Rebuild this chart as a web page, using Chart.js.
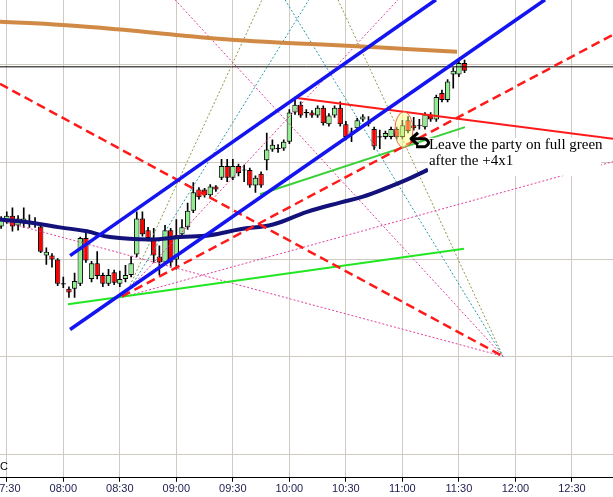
<!DOCTYPE html>
<html>
<head>
<meta charset="utf-8">
<script src="https://cdn.jsdelivr.net/npm/chart.js@4.4.1/dist/chart.umd.min.js"></script>
<style>
  html, body { margin: 0; padding: 0; background: #fff; }
  #wrap { width: 613px; height: 497px; position: relative; }
</style>
</head>
<body>
<div id="wrap"><canvas id="chart"></canvas></div>
<script>
// 3 minute bars
const candleTimes = [
  "07:27","07:30","07:33","07:36","07:39","07:42","07:45","07:48","07:51","07:54",
  "07:57","08:00","08:03","08:06","08:09","08:12","08:15","08:18","08:21","08:24",
  "08:27","08:30","08:33","08:36","08:39","08:42","08:45","08:48","08:51","08:54",
  "08:57","09:00","09:03","09:06","09:09","09:12","09:15","09:18","09:21","09:24",
  "09:27","09:30","09:33","09:36","09:39","09:42","09:45","09:48","09:51","09:54",
  "09:57","10:00","10:03","10:06","10:09","10:12","10:15","10:18","10:21","10:24",
  "10:27","10:30","10:33","10:36","10:39","10:42","10:45","10:48","10:51","10:54",
  "10:57","11:00","11:03","11:06","11:09","11:12","11:15","11:18","11:21","11:24",
  "11:27","11:30","11:33"
];
const opens = [
  1393.4,1393.9,1394.5,1393.5,1393.8,1393.8,1393.7,1393.4,1390.4,1390.4,
  1390.0,1387.5,1387.0,1387.0,1387.5,1392.2,1388.0,1389.6,1388.4,1387.5,
  1388.7,1387.5,1388.0,1388.4,1390.5,1394.2,1393.0,1392.2,1390.3,1389.7,
  1393.0,1390.0,1392.6,1393.3,1395.0,1397.2,1397.2,1396.6,1397.5,1398.4,
  1399.6,1398.4,1399.6,1399.2,1399.2,1397.6,1398.8,1400.2,1401.3,1401.4,
  1401.4,1402.1,1405.1,1405.9,1405.1,1405.1,1404.8,1405.6,1403.9,1404.8,
  1405.6,1403.9,1403.1,1403.5,1404.4,1404.0,1403.4,1402.6,1402.6,1402.6,
  1403.4,1402.6,1404.3,1403.8,1403.8,1403.6,1404.9,1404.4,1407.1,1406.4,
  1409.0,1409.0,1410.2
];
const highs = [
  1394.4,1394.9,1395.3,1394.5,1395.3,1394.6,1394.3,1393.5,1391.2,1390.6,
  1390.1,1388.2,1387.2,1388.6,1392.3,1392.7,1389.8,1390.8,1388.6,1389.0,
  1388.9,1388.8,1389.4,1390.3,1394.9,1394.9,1393.3,1393.2,1391.4,1393.5,
  1393.2,1394.1,1394.1,1395.8,1397.9,1397.4,1397.3,1397.7,1397.6,1400.3,
  1400.3,1400.3,1399.8,1399.7,1399.4,1398.6,1399.0,1403.0,1402.3,1401.8,
  1402.3,1405.4,1406.7,1406.2,1405.4,1405.3,1405.8,1405.8,1405.0,1405.8,
  1406.2,1404.2,1403.5,1404.5,1404.9,1404.7,1403.6,1403.3,1403.2,1403.6,
  1403.6,1404.3,1404.7,1404.6,1404.4,1405.1,1405.1,1406.9,1407.4,1408.5,
  1409.7,1410.5,1410.5
];
const lows = [
  1393.2,1393.7,1392.9,1393.0,1393.3,1393.3,1393.3,1390.7,1389.5,1389.2,
  1387.3,1387.1,1386.1,1386.1,1387.3,1389.7,1387.7,1388.0,1387.2,1387.3,
  1387.4,1387.2,1387.7,1388.2,1390.3,1392.4,1391.9,1389.7,1388.4,1389.5,
  1389.2,1389.0,1392.3,1393.1,1394.8,1396.2,1396.4,1396.4,1397.0,1398.2,
  1398.0,1398.2,1398.6,1398.0,1397.4,1396.9,1397.4,1399.2,1401.1,1401.0,
  1401.2,1401.9,1404.9,1404.6,1404.6,1404.6,1404.6,1403.8,1403.7,1404.6,
  1403.7,1402.3,1402.1,1403.2,1404.2,1403.7,1401.3,1401.4,1402.4,1402.4,
  1402.4,1402.4,1403.0,1403.3,1403.4,1403.4,1404.2,1404.2,1406.2,1406.2,
  1407.6,1408.8,1409.2
];
const closes = [
  1394.1,1394.5,1393.4,1394.2,1394.2,1393.8,1393.7,1390.8,1390.8,1390.0,
  1387.5,1387.5,1386.6,1387.8,1392.2,1389.9,1389.6,1388.3,1387.5,1388.4,
  1387.6,1388.0,1388.4,1389.6,1394.2,1392.6,1392.2,1390.4,1389.7,1393.0,
  1389.7,1392.5,1393.3,1395.0,1396.9,1396.4,1396.6,1397.5,1397.2,1399.6,
  1398.4,1399.6,1398.9,1399.2,1397.6,1398.4,1397.6,1401.3,1401.8,1401.4,
  1402.1,1405.1,1405.9,1404.8,1405.1,1404.8,1405.6,1404.0,1404.8,1405.6,
  1403.9,1402.6,1403.1,1404.3,1404.7,1404.0,1401.6,1402.6,1403.0,1403.4,
  1402.6,1403.8,1403.2,1403.5,1403.8,1404.9,1404.4,1406.7,1406.4,1408.3,
  1409.4,1410.2,1409.4
];

// moving averages [minutes, price]
const slowAverage = [
  [446.4,1414.44],[479.6,1414.10],[508.5,1413.66],[539.8,1413.08],[571.1,1412.56],
  [601.9,1412.23],[633.2,1411.95],[664.0,1411.61],[689.0,1411.36]
];
const fastAverage = [
  [446.4,1394.1],[462.3,1393.8],[478.2,1393.3],[492.6,1392.9],[504.8,1392.3],
  [526.0,1392.05],[541.9,1392.3],[557.9,1392.5],[573.8,1393.1],[591.3,1393.6],
  [609.4,1394.9],[626.9,1395.85],[639.1,1396.46],[653.4,1397.49],[662.4,1398.2],
  [673.6,1399.23]
];

// drawn trend lines [minutes, price]
const channelUpper = [[483.6,1390.4],[677.8,1416.7]];
const channelLower = [[483.6,1382.8],[735.7,1416.7]];
const resistance = [[604.0,1406.6],[771.8,1402.4]];
const dashFromHigh = [[446.4,1408.05],[713.4,1380.05]];
const dashFromLow = [[511.2,1386.2],[771.8,1413.1]];
const greenLow = [[482.5,1385.4],[692.7,1391.1]];
const greenMid = [[584.4,1396.7],[693.2,1403.6]];
const fanPinkSteep = [[511.2,1386.2],[657.7,1416.7]];
const fanPinkFlat = [[511.2,1386.1],[771.8,1400.05]];
const fanOlive = [[512.7,1386.2],[585.5,1416.7]];
const fanTeal = [[512.7,1386.2],[610.4,1416.7]];
const apexPinkLeft = [[446.4,1394.0],[713.4,1380.05]];
const apexPinkTop = [[539.3,1416.7],[713.4,1380.05]];
const apexTeal = [[597.7,1416.7],[713.4,1380.05]];
const apexOlive = [[625.8,1416.7],[713.4,1380.05]];
const lastPrice = 1409.8;

const tickLabels = ["07:30","08:00","08:30","09:00","09:30","10:00","10:30","11:00","11:30","12:00","12:30"];
const gridPrices = [1370, 1380, 1390, 1400, 1410];

const xMin = 446.4, xMax = 771.8;
const yMax = 1416.67, yMin = 1367.56;

const toMin = (s) => { const [h, m] = s.split(":").map(Number); return h * 60 + m; };
const fmt = (v) => String(Math.floor(v / 60)).padStart(2, "0") + ":" + String(Math.round(v % 60)).padStart(2, "0");

const isDoji = (i) => Math.abs(opens[i] - closes[i]) < 0.05;

const bodies = candleTimes.map((t, i) => ({
  x: toMin(t),
  y: isDoji(i) ? [closes[i] - 0.06, closes[i] + 0.06] : [opens[i], closes[i]]
}));
const bodyColors = candleTimes.map((t, i) =>
  isDoji(i) ? "#000" : (closes[i] > opens[i] ? "#90ee90" : "#ff0000"));
const wicks = candleTimes.map((t, i) => ({ x: toMin(t), y: [lows[i], highs[i]] }));

const line = (pts, color, width, dash, smooth) => ({
  type: "line",
  data: pts.map(([x, y]) => ({ x, y })),
  borderColor: color,
  borderWidth: width,
  borderDash: dash || [],
  pointRadius: 0,
  fill: false,
  tension: smooth ? 0.4 : 0,
  order: 0
});

const comment = {
  t: 674.1, p: 1401.8,
  lines: ["Leave the party on full green", "after the +4x1"],
  box: [673.6, 1402.5, 765.4, 1398.6]
};
const circled = { t: 660.8, p: 1403.33 };
const arrowTip = { t: 664.6, p: 1402.41 };

const notes = {
  id: "notes",
  afterDatasetsDraw(chart) {
    const { ctx, scales: { x, y }, chartArea } = chart;
    ctx.save();
    // white background under the comment
    const [b0, b1, b2, b3] = comment.box;
    const bx = x.getPixelForValue(b0), by = y.getPixelForValue(b1);
    ctx.fillStyle = "#fff";
    ctx.fillRect(bx, by, x.getPixelForValue(b2) - bx, y.getPixelForValue(b3) - by);

    // circled bar
    ctx.beginPath();
    ctx.ellipse(x.getPixelForValue(circled.t), y.getPixelForValue(circled.p), 9, 18, 0, 0, Math.PI * 2);
    ctx.fillStyle = "rgba(255,255,120,0.45)";
    ctx.fill();
    ctx.strokeStyle = "#e06a5a";
    ctx.lineWidth = 1;
    ctx.stroke();

    // arrow
    const ax = x.getPixelForValue(arrowTip.t), ay = y.getPixelForValue(arrowTip.p);
    ctx.strokeStyle = "#000";
    ctx.lineWidth = 3;
    ctx.lineJoin = "round";
    ctx.beginPath();
    ctx.moveTo(ax + 7, ay - 6);
    ctx.lineTo(ax, ay);
    ctx.lineTo(ax + 7, ay + 6);
    ctx.moveTo(ax, ay);
    ctx.lineTo(ax + 14, ay);
    ctx.quadraticCurveTo(ax + 21, ay + 4, ax + 14, ay + 8);
    ctx.lineTo(ax + 5, ay + 8);
    ctx.stroke();

    // comment text
    ctx.fillStyle = "#000";
    ctx.font = "15px 'Liberation Serif'";
    ctx.textBaseline = "middle";
    const tx = x.getPixelForValue(comment.t), ty = y.getPixelForValue(comment.p);
    comment.lines.forEach((s, i) => ctx.fillText(s, tx, ty + i * 16));

    // cut off axis caption
    ctx.font = "11px 'Liberation Sans'";
    ctx.fillText("C", chartArea.left, chartArea.bottom - 11);
    ctx.restore();
  }
};

new Chart(document.getElementById("chart"), {
  type: "bar",
  data: {
    datasets: [
      line(channelUpper, "#1414f0", 3.5),
      line(channelLower, "#1414f0", 3.5),
      line(resistance, "#ff1a1a", 2),
      line(dashFromHigh, "#ff1a1a", 2.5, [9, 5]),
      line(dashFromLow, "#ff1a1a", 2.5, [9, 5]),
      line(greenLow, "#22e622", 2),
      line(greenMid, "#3ad03a", 2),
      line(fastAverage, "#12127a", 4, null, true),
      line(slowAverage, "#d08a45", 4, null, true),
      line(fanPinkSteep, "#e0409c", 1, [2, 2]),
      line(fanPinkFlat, "#e0409c", 1, [2, 2]),
      line(fanOlive, "#8c9a48", 1, [2, 2]),
      line(fanTeal, "#2a9aa8", 1, [2, 2]),
      line(apexPinkLeft, "#e0409c", 1, [2, 2]),
      line(apexPinkTop, "#e0409c", 1, [2, 2]),
      line(apexTeal, "#2a9aa8", 1, [2, 2]),
      line(apexOlive, "#8c9a48", 1, [2, 2]),
      line([[xMin, lastPrice], [xMax, lastPrice]], "#000", 1),
      {
        type: "bar",
        data: bodies,
        backgroundColor: bodyColors,
        borderColor: "#000",
        borderWidth: 1,
        borderSkipped: false,
        grouped: false,
        categoryPercentage: 1,
        barPercentage: 0.95,
        order: 1
      },
      {
        type: "bar",
        data: wicks,
        backgroundColor: "#000",
        barThickness: 1,
        maxBarThickness: 1,
        grouped: false,
        order: 2
      }
    ]
  },
  options: {
    responsive: true,
    maintainAspectRatio: false,
    animation: false,
    layout: { padding: 0 },
    plugins: { legend: { display: false }, tooltip: { enabled: false } },
    scales: {
      x: {
        type: "linear",
        min: xMin,
        max: xMax,
        offset: false,
        afterBuildTicks: (s) => { s.ticks = tickLabels.map((l) => ({ value: toMin(l) })); },
        afterFit: (s) => { s.paddingLeft = 0; s.paddingRight = 0; },
        grid: { color: "#cfcbc3", tickLength: 4, tickColor: "#000", offset: false },
        border: { color: "#000", width: 1 },
        ticks: {
          autoSkip: false,
          maxRotation: 0,
          padding: 1,
          color: "#1c1c50",
          font: { family: "'Liberation Sans'", size: 11 },
          callback: (v) => fmt(v)
        }
      },
      y: {
        type: "linear",
        min: yMin,
        max: yMax,
        afterBuildTicks: (s) => { s.ticks = gridPrices.map((v) => ({ value: v })); },
        afterFit: (s) => { s.width = 0; },
        grid: { color: "#cfcbc3", drawTicks: false },
        border: { display: false },
        ticks: { display: false }
      }
    }
  },
  plugins: [notes]
});
</script>
</body>
</html>
